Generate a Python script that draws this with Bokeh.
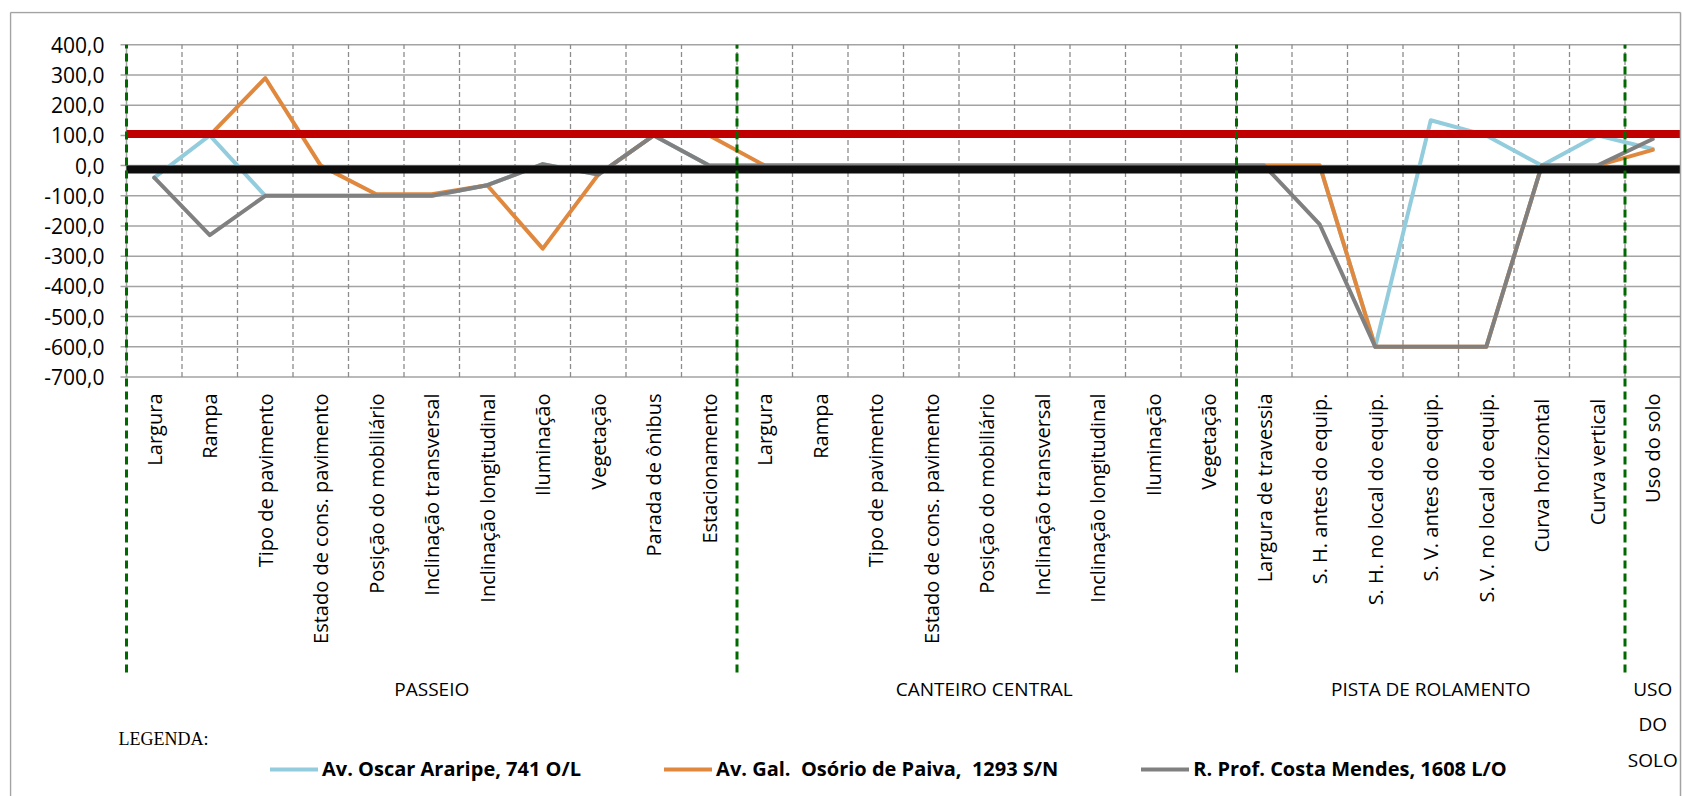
import math

from bokeh.core.properties import value
from bokeh.embed import file_html
from bokeh.models import FixedTicker, Legend, LegendItem, Range1d
from bokeh.plotting import figure
from bokeh.resources import INLINE

# ---------------------------------------------------------------- data
groups = ["PASSEIO", "CANTEIRO  CENTRAL", "PISTA DE ROLAMENTO", "USO\nDO\nSOLO"]
group_sizes = [11, 9, 7, 1]

categories = [
    # passeio
    "Largura", "Rampa", "Tipo de pavimento", "Estado de cons. pavimento",
    "Posição do mobiliário", "Inclinação transversal", "Inclinação longitudinal",
    "Iluminação", "Vegetação", "Parada de ônibus", "Estacionamento",
    # canteiro central
    "Largura", "Rampa", "Tipo de pavimento", "Estado de cons. pavimento",
    "Posição do mobiliário", "Inclinação transversal", "Inclinação longitudinal",
    "Iluminação", "Vegetação",
    # pista de rolamento
    "Largura de travessia", "S. H. antes do equip.", "S. H. no local do equip.",
    "S. V. antes do equip.", "S. V. no local do equip.", "Curva  horizontal",
    "Curva  vertical",
    # uso do solo
    "Uso do solo",
]

oscar_araripe = [-40, 100, -100, -100, -100, -100, -65, 5, -30, 100, 0,
                 0, 0, 0, 0, 0, 0, 0, 0, 0,
                 0, 0, -600, 150, 100, 0, 100, 55]
osorio_paiva = [100, 100, 290, 0, -95, -95, -65, -275, -30, 100, 100,
                0, 0, 0, 0, 0, 0, 0, 0, 0,
                0, 0, -600, -600, -600, 0, 0, 52]
costa_mendes = [-40, -230, -100, -100, -100, -100, -65, 5, -30, 100, 0,
                0, 0, 0, 0, 0, 0, 0, 0, 0,
                0, -195, -600, -600, -600, 0, 0, 88]

series_names = ["Av. Oscar Araripe, 741 O/L",
                "Av. Gal.  Osório de Paiva,  1293 S/N",
                "R. Prof. Costa Mendes, 1608 L/O"]
series_colors = ["#93CDDD", "#E0883E", "#808080"]

limite_superior = 105
limite_inferior = -13

y_ticks = list(range(-700, 401, 100))
y_min, y_max = y_ticks[0], y_ticks[-1]

# ---------------------------------------------------------------- layout
W, H = 1682, 796
FRAME_L, FRAME_T = 9, 11   # frame covers the whole chart box
PLOT_L = 126               # pixel column where the first category starts
CAT_W = 55.5               # pixels per category
Y_TOP_PX = 44.3            # pixel row of the top gridline
PX_PER_UNIT = 0.302        # pixels per value unit
GRID = "#a3a3a3"


def x_at(px):
    return (px - PLOT_L) / CAT_W


def y_at(px):
    return y_max - (px - Y_TOP_PX) / PX_PER_UNIT


n = len(categories)
cat_x = [i + 0.5 for i in range(n)]
group_starts = [sum(group_sizes[:k]) for k in range(len(group_sizes))]
group_centers = [s + g / 2 for s, g in zip(group_starts, group_sizes)]
inner_bounds = list(range(1, n))

p = figure(width=W, height=H, output_backend="svg", toolbar_location=None,
           title=None, x_axis_location=None,
           x_range=Range1d(x_at(FRAME_L), x_at(W)),
           y_range=Range1d(y_at(H), y_at(FRAME_T)),
           min_border_left=FRAME_L, min_border_right=0,
           min_border_top=FRAME_T, min_border_bottom=0)
p.outline_line_color = None
p.background_fill_color = "white"
p.border_fill_color = "white"
p.xgrid.visible = False
p.ygrid.visible = False

# value axis: labels sit just left of the plot area
ax = p.yaxis[0]
ax.ticker = FixedTicker(ticks=y_ticks)
ax.major_label_overrides = {t: f"{t},0" for t in y_ticks}
ax.axis_line_color = None
ax.major_tick_out = 0
ax.major_tick_in = 0
ax.minor_tick_line_color = None
ax.major_label_standoff = -(PLOT_L - FRAME_L - 6 - 16)
ax.major_label_text_font = "Open Sans"
ax.major_label_text_font_size = "21px"
ax.major_label_text_color = "#000000"

# horizontal gridlines (with their tick marks)
p.segment(x0=x_at(PLOT_L - 6), y0=y_ticks, x1=n, y1=y_ticks,
          line_color=GRID, line_width=1.5)

# category separators and y axis line
p.segment(x0=inner_bounds, y0=y_min, x1=inner_bounds, y1=y_max,
          line_color="#8c8c8c", line_width=1.3, line_dash="5 3")
p.segment(x0=[0], y0=y_min, x1=[0], y1=y_max, line_color=GRID, line_width=1.5)

# series
renderers = []
for vals, col in zip([oscar_araripe, osorio_paiva, costa_mendes], series_colors):
    r = p.line(cat_x, vals, line_color=col, line_width=4,
               line_join="round", line_cap="round")
    renderers.append(r)

# reference levels
p.line([0, n], [limite_superior] * 2, line_color="#C00000", line_width=8)
p.line([0, n], [limite_inferior] * 2, line_color="#0D0D0D", line_width=8)

# group separators
p.segment(x0=group_starts, y0=y_at(672), x1=group_starts, y1=y_max,
          line_color="#006a00", line_width=3, line_dash="8 5")

# category labels
p.text(x=cat_x, y=y_at(393), text=categories, angle=math.pi / 2,
       text_align="right", text_baseline="middle",
       text_font=value("Open Sans"), text_font_size="20px", text_color="#000000")

# group labels
p.text(x=group_centers, y=y_at(675), text=groups,
       text_align="center", text_baseline="top", text_line_height=1.37,
       text_font=value("Open Sans"), text_font_size="19px", text_color="#000000")

# legend
legend = Legend(
    items=[LegendItem(label=nm, renderers=[r]) for nm, r in zip(series_names, renderers)],
    orientation="horizontal", location=(PLOT_L - FRAME_L + 144, 14),
    border_line_color=None, background_fill_alpha=0,
    padding=0, margin=0, spacing=83,
    glyph_width=48, glyph_height=20, label_standoff=4, label_height=20,
    label_text_font="Open Sans", label_text_font_style="bold",
    label_text_font_size="20px", label_text_color="#000000",
)
p.add_layout(legend)

p.text(x=[x_at(118)], y=[y_at(738)], text=["LEGENDA:"],
       text_baseline="middle", text_font=value("Liberation Serif"),
       text_font_size="18px", text_color="#000000")

# chart border
p.segment(x0=[x_at(10), x_at(10), x_at(1680)],
          y0=[y_at(12), y_at(H), y_at(12)],
          x1=[x_at(1680), x_at(10), x_at(1680)],
          y1=[y_at(12), y_at(12), y_at(H)],
          line_color=GRID, line_width=1.5)

open("out.html", "w").write(file_html(p, INLINE))
